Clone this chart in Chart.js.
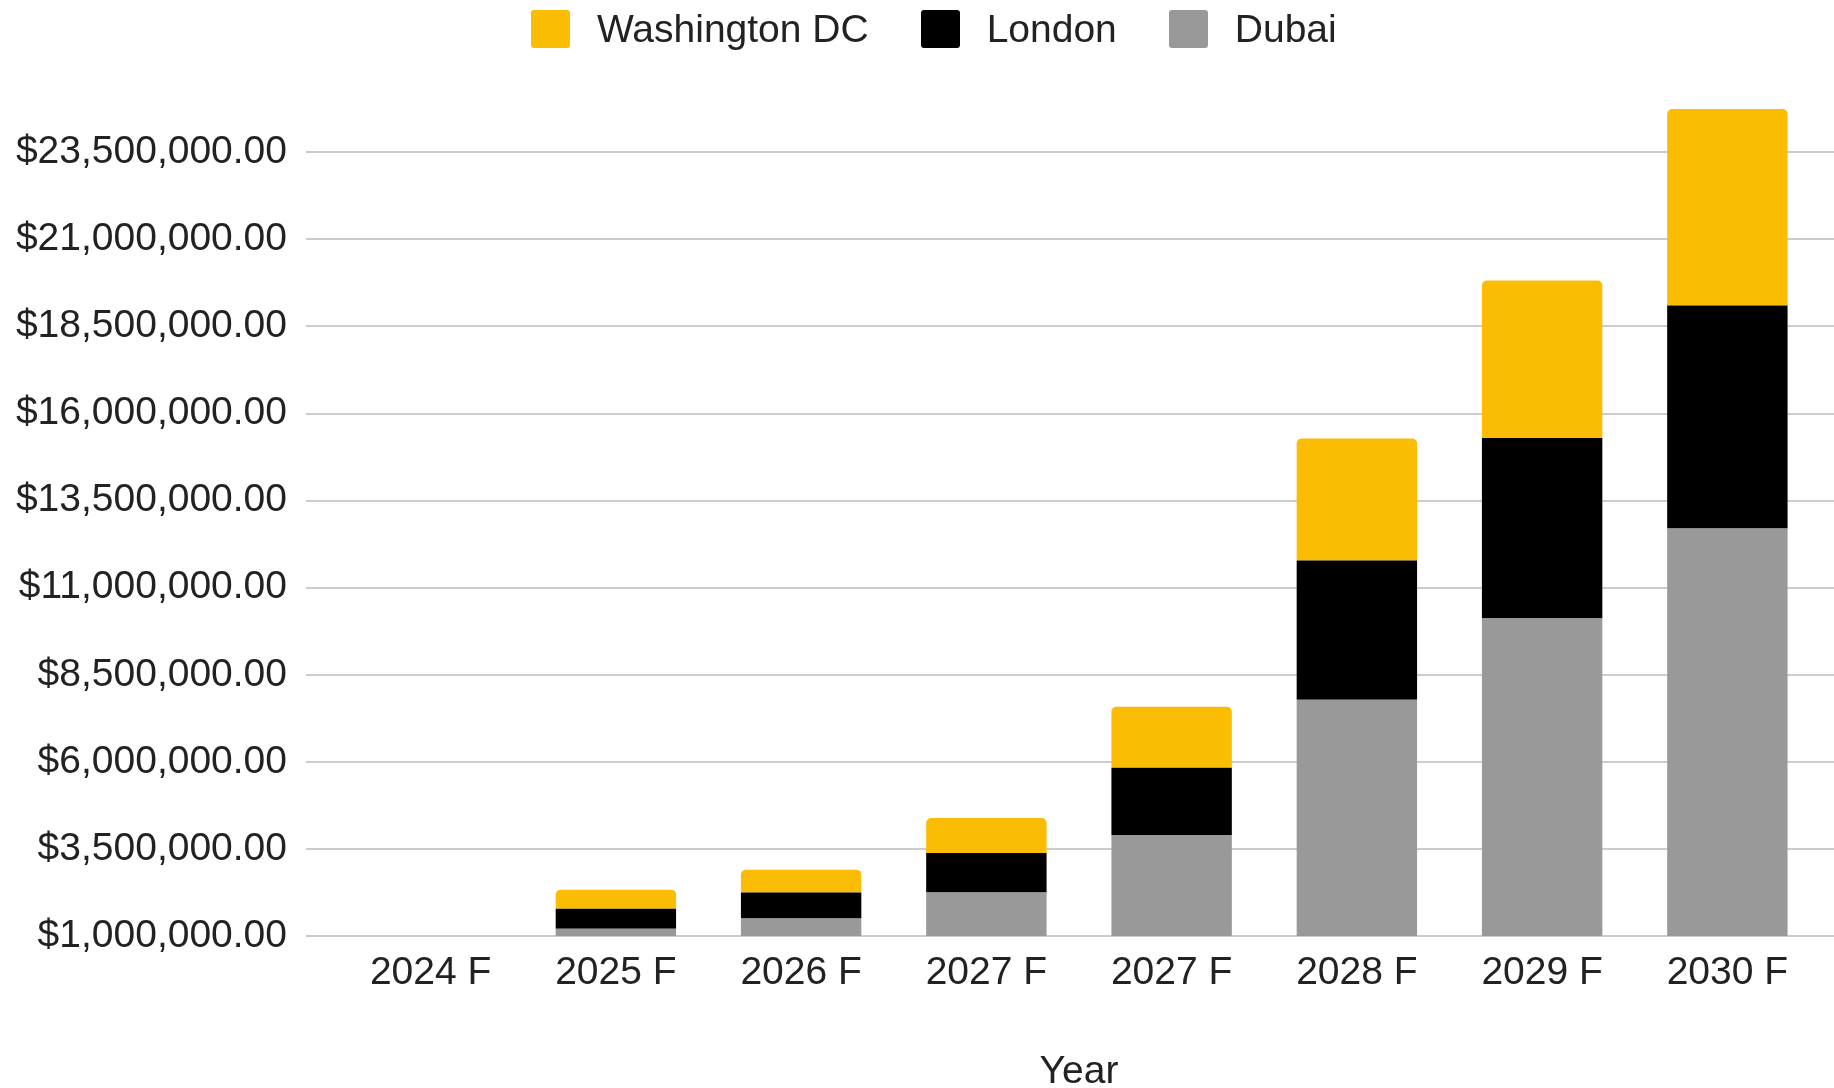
<!DOCTYPE html>
<html>
<head>
<meta charset="utf-8">
<script src="https://cdn.jsdelivr.net/npm/chart.js@4.4.1/dist/chart.umd.min.js"></script>
<style>
  html, body { margin: 0; padding: 0; background: #fff; }
  #wrap { position: relative; width: 1834px; height: 1088px; }
  #legend {
    position: absolute; left: 531px; top: 10px;
    display: flex; align-items: center; gap: 52px;
    font-family: Arial, "Liberation Sans", sans-serif; font-size: 39px; color: #222;
  }
  #legend .item { display: flex; align-items: center; }
  #legend .swatch { width: 39px; height: 38px; border-radius: 3px; margin-right: 27px; }
  #legend span { line-height: 38px; }
</style>
</head>
<body>
<div id="wrap">
  <div id="legend"></div>
  <canvas id="chart"></canvas>
</div>
<script>
// Categories and stacked series (bottom to top: Dubai, London, Washington DC)
var categories = ['2024 F', '2025 F', '2026 F', '2027 F', '2027 F', '2028 F', '2029 F', '2030 F'];
var dubai = [0, 1210000, 1500000, 2250000, 3900000, 7780000, 10130000, 12700000];
var london = [0, 570000, 750000, 1130000, 1930000, 4000000, 5170000, 6400000];
var washingtonDC = [0, 550000, 650000, 1010000, 1750000, 3500000, 4520000, 5640000];
var yTicks = [1000000, 3500000, 6000000, 8500000, 11000000, 13500000, 16000000, 18500000, 21000000, 23500000];

(function () {
  var FONT = 'Arial, "Liberation Sans", sans-serif';
  var TEXT = '#222222';
  var GRID = '#cccccc';

  var series = [
    { label: 'Dubai', data: dubai, color: '#999999' },
    { label: 'London', data: london, color: '#000000' },
    { label: 'Washington DC', data: washingtonDC, color: '#FBBC04', top: true }
  ];

  // legend is listed top-of-stack first
  var legend = document.getElementById('legend');
  series.slice().reverse().forEach(function (s) {
    var item = document.createElement('div');
    item.className = 'item';
    var sw = document.createElement('div');
    sw.className = 'swatch';
    sw.style.background = s.color;
    var txt = document.createElement('span');
    txt.textContent = s.label;
    item.appendChild(sw);
    item.appendChild(txt);
    legend.appendChild(item);
  });

  var fmt = function (v) {
    return '$' + Number(v).toLocaleString('en-US', { minimumFractionDigits: 2, maximumFractionDigits: 2 });
  };

  // gridlines run on to the right edge of the canvas
  var gridTail = {
    id: 'gridTail',
    beforeDatasetsDraw: function (chart) {
      var y = chart.scales.y, ctx = chart.ctx, a = chart.chartArea;
      ctx.save();
      ctx.strokeStyle = GRID;
      ctx.lineWidth = 2;
      y.ticks.forEach(function (t) {
        var py = Math.round(y.getPixelForValue(t.value));
        ctx.beginPath();
        ctx.moveTo(a.right, py);
        ctx.lineTo(chart.width, py);
        ctx.stroke();
      });
      ctx.restore();
    }
  };

  new Chart(document.getElementById('chart'), {
    type: 'bar',
    data: {
      labels: categories,
      datasets: series.map(function (s) {
        return {
          label: s.label,
          data: s.data,
          backgroundColor: s.color,
          borderWidth: 0,
          borderRadius: s.top ? { topLeft: 5, topRight: 5, bottomLeft: 0, bottomRight: 0 } : 0,
          borderSkipped: false,
          categoryPercentage: 1,
          barPercentage: 0.65
        };
      })
    },
    plugins: [gridTail],
    options: {
      responsive: true,
      maintainAspectRatio: false,
      animation: false,
      layout: { padding: { top: 100, left: 15, right: 14, bottom: 0 } },
      plugins: {
        legend: { display: false },
        tooltip: { enabled: false }
      },
      scales: {
        x: {
          stacked: true,
          grid: { display: false, drawTicks: false },
          border: { display: false },
          ticks: {
            color: TEXT, padding: 14, maxRotation: 0, autoSkip: false,
            font: { family: FONT, size: 39 }
          },
          title: {
            display: true, text: 'Year', color: TEXT,
            font: { family: FONT, size: 39, lineHeight: 0.8 },
            padding: { top: 46, bottom: 0 }
          }
        },
        y: {
          stacked: true,
          min: 1000000,
          max: 25000000,
          afterBuildTicks: function (scale) {
            scale.ticks = yTicks.map(function (v) { return { value: v }; });
          },
          afterFit: function (scale) { scale.width = 323; },
          grid: { color: GRID, lineWidth: 2, drawTicks: true, tickLength: 32 },
          border: { display: false },
          ticks: {
            color: TEXT, padding: 19,
            font: { family: FONT, size: 39 },
            callback: fmt
          }
        }
      }
    }
  });
})();
</script>
</body>
</html>
